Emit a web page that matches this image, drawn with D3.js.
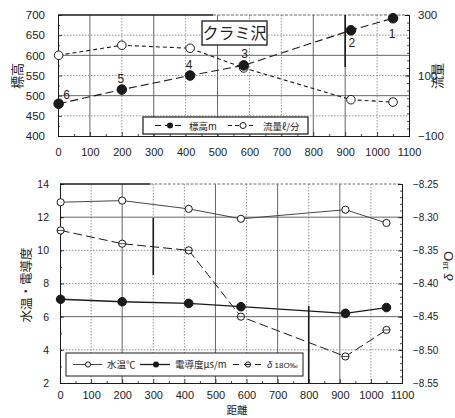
<!DOCTYPE html>
<html>
<head>
<meta charset="utf-8">
<script src="https://cdn.jsdelivr.net/npm/d3@7"></script>
<style>
  body { margin: 0; background: #fff; }
  svg { display: block; }
  text { font-family: "Liberation Sans", Arial, sans-serif; fill: #222; }
  .jp { font-family: "Noto Sans CJK JP", "Noto Sans", sans-serif; }
</style>
</head>
<body>
<svg id="chart" width="455" height="418"></svg>
<script>
// Survey stations along the stream (distance in m)
const distances = [2, 200, 414, 582, 918, 1050];
const stations = ["6", "5", "4", "3", "2", "1"];

// Upper panel: elevation (m) and discharge (l/min)
const elevation = [480, 515, 550, 575, 662, 692];
const discharge = [167, 200, 190, 125, 20, 12];

// Lower panel: water temperature, conductivity and delta 18O
const waterTemp = [12.9, 13.0, 12.5, 11.9, 12.45, 11.65];
const conductivity = [7.05, 6.9, 6.8, 6.6, 6.2, 6.55];
const delta18O = [-8.32, -8.34, -8.35, -8.45, -8.51, -8.47];

// Tick values
const distTicks = [0, 100, 200, 300, 400, 500, 600, 700, 800, 900, 1000, 1100];
const elevTicks = [400, 450, 500, 550, 600, 650, 700];
const dischargeTicks = [-100, 100, 300];
const tempTicks = [2, 4, 6, 8, 10, 12, 14];
const deltaTicks = [-8.55, -8.50, -8.45, -8.40, -8.35, -8.30, -8.25];

const svg = d3.select("#chart");
svg.append("rect").attr("width", 455).attr("height", 418).attr("fill", "#fff");

const ink = "#1a1a1a";
const gridCol = "#8a8a8a";

function drawGrid(g, x, y, xs, ys, x0, x1, y0, y1, solidX, solidY) {
  g.selectAll(null).data(xs).join("line")
    .attr("x1", d => x(d)).attr("x2", d => x(d))
    .attr("y1", y0).attr("y2", y1)
    .attr("stroke", d => solidX.includes(d) ? "#555" : gridCol)
    .attr("stroke-width", 0.9)
    .attr("stroke-dasharray", d => solidX.includes(d) ? null : "1.5,1.5");
  g.selectAll(null).data(ys).join("line")
    .attr("x1", x0).attr("x2", x1)
    .attr("y1", d => y(d)).attr("y2", d => y(d))
    .attr("stroke", d => solidY.includes(d) ? "#555" : gridCol)
    .attr("stroke-width", 0.9)
    .attr("stroke-dasharray", d => solidY.includes(d) ? null : "1.5,1.5");
}

function styleAxis(g, size) {
  g.select(".domain").attr("stroke", ink).attr("stroke-width", 1);
  g.selectAll(".tick line").attr("stroke", ink).attr("stroke-width", 0.8);
  g.selectAll(".tick text").attr("font-size", size).attr("fill", "#222")
    .attr("font-family", "Liberation Sans, Arial, sans-serif");
}

function marker(g, data, x, y, r, filled, bar) {
  const m = g.selectAll(null).data(data).join("g")
    .attr("transform", d => `translate(${x(d[0])},${y(d[1])})`);
  m.append("circle").attr("r", r)
    .attr("fill", filled ? ink : "#fff")
    .attr("stroke", ink).attr("stroke-width", 1);
  if (bar) m.append("line").attr("x1", -r).attr("x2", r)
    .attr("stroke", ink).attr("stroke-width", 0.8);
}

/* ---------------- Upper panel ---------------- */
{
  const x = d3.scaleLinear().domain([0, 1100]).range([58, 409]);
  const yL = d3.scaleLinear().domain([400, 700]).range([136, 15]);
  const yR = d3.scaleLinear().domain([-100, 300]).range([136, 15]);
  const g = svg.append("g");

  drawGrid(g, x, yL, distTicks.slice(1, -1), elevTicks.slice(1, -1),
    58, 409, 15, 136, [100, 300, 500, 800, 900], [500, 600]);

  // frame top and right
  g.append("line").attr("x1", 58).attr("x2", 213).attr("y1", 15).attr("y2", 15)
    .attr("stroke", ink).attr("stroke-width", 1.5);
  g.append("line").attr("x1", 213).attr("x2", 409).attr("y1", 15).attr("y2", 15)
    .attr("stroke", "#666").attr("stroke-width", 1).attr("stroke-dasharray", "3,1.5");
  g.append("line").attr("x1", x(900)).attr("x2", x(900)).attr("y1", 15).attr("y2", 67)
    .attr("stroke", ink).attr("stroke-width", 1.6);

  const ax = g.append("g").attr("transform", "translate(0,136)")
    .call(d3.axisBottom(x).tickValues(distTicks).tickSize(-4).tickPadding(12).tickFormat(d3.format("d")));
  styleAxis(ax, 11);
  const minorX = g.append("g").attr("transform", "translate(0,136)")
    .call(d3.axisBottom(x).tickValues(d3.range(50, 1100, 100)).tickSize(-2).tickFormat(""));
  styleAxis(minorX, 0);

  const ayl = g.append("g").attr("transform", "translate(58,0)")
    .call(d3.axisLeft(yL).tickValues(elevTicks).tickSize(-4).tickPadding(13));
  styleAxis(ayl, 11.5);
  const minorL = g.append("g").attr("transform", "translate(58,0)")
    .call(d3.axisLeft(yL).tickValues(d3.range(425, 700, 50)).tickSize(-2).tickFormat(""));
  styleAxis(minorL, 0);

  const ayr = g.append("g").attr("transform", "translate(409,0)")
    .call(d3.axisRight(yR).tickValues(dischargeTicks).tickSize(-4).tickPadding(9));
  styleAxis(ayr, 11.5);
  const minorR = g.append("g").attr("transform", "translate(409,0)")
    .call(d3.axisRight(yR).tickValues(d3.range(-75, 300, 25)).tickSize(-2).tickFormat(""));
  styleAxis(minorR, 0);

  // lines
  const elevPts = distances.map((d, i) => [d, elevation[i]]);
  const disPts = distances.map((d, i) => [d, discharge[i]]);
  g.append("path").datum(elevPts)
    .attr("d", d3.line().x(d => x(d[0])).y(d => yL(d[1])))
    .attr("fill", "none").attr("stroke", ink).attr("stroke-width", 1.1)
    .attr("stroke-dasharray", "8,4");
  g.append("path").datum(disPts)
    .attr("d", d3.line().x(d => x(d[0])).y(d => yR(d[1])))
    .attr("fill", "none").attr("stroke", ink).attr("stroke-width", 1.1)
    .attr("stroke-dasharray", "4,3");
  marker(g, disPts, x, yR, 4.3, false, false);
  marker(g, elevPts, x, yL, 4.8, true, false);

  // station numbers
  const numOffset = [[8, -9], [-1, -11], [-1, -11], [1, -11], [1, 13], [-1, 16]];
  g.selectAll(null).data(elevPts).join("text")
    .attr("x", (d, i) => x(d[0]) + numOffset[i][0])
    .attr("y", (d, i) => yL(d[1]) + numOffset[i][1] + 4)
    .attr("text-anchor", "middle").attr("font-size", 12)
    .attr("fill", ink).attr("font-family", "Liberation Sans, Arial, sans-serif")
    .text((d, i) => stations[i]);

  // title box
  g.append("rect").attr("x", 202).attr("y", 21).attr("width", 65).attr("height", 24)
    .attr("fill", "#fff").attr("stroke", ink).attr("stroke-width", 1.3);
  g.append("text").attr("class", "jp").attr("x", 234.5).attr("y", 39)
    .attr("text-anchor", "middle").attr("font-size", 16).text("クラミ沢");

  // legend
  const lg = g.append("g");
  lg.append("rect").attr("x", 143).attr("y", 117).attr("width", 165).attr("height", 17)
    .attr("fill", "#fff").attr("stroke", ink).attr("stroke-width", 1.2);
  lg.append("line").attr("x1", 155).attr("x2", 185).attr("y1", 125.5).attr("y2", 125.5)
    .attr("stroke", ink).attr("stroke-dasharray", "6,4");
  lg.append("circle").attr("cx", 170).attr("cy", 125.5).attr("r", 3).attr("fill", ink);
  lg.append("text").attr("class", "jp").attr("x", 189).attr("y", 129.5)
    .attr("font-size", 9.5).text("標高m");
  lg.append("line").attr("x1", 228).attr("x2", 256).attr("y1", 125.5).attr("y2", 125.5)
    .attr("stroke", ink).attr("stroke-dasharray", "4,3");
  lg.append("circle").attr("cx", 243).attr("cy", 125.5).attr("r", 3).attr("fill", "#fff").attr("stroke", ink);
  lg.append("text").attr("class", "jp").attr("x", 263).attr("y", 129.5)
    .attr("font-size", 9.5).text("流量ℓ/分");

  // axis titles
  g.append("text").attr("class", "jp").attr("transform", "translate(22,76) rotate(-90)")
    .attr("text-anchor", "middle").attr("font-size", 13).text("標高");
  g.append("text").attr("class", "jp").attr("transform", "translate(442,76) rotate(-90)")
    .attr("text-anchor", "middle").attr("font-size", 13).text("流量");
}

/* ---------------- Lower panel ---------------- */
{
  const x = d3.scaleLinear().domain([0, 1100]).range([60, 402]);
  const yL = d3.scaleLinear().domain([2, 14]).range([383, 184]);
  const yR = d3.scaleLinear().domain([-8.55, -8.25]).range([383, 184]);
  const g = svg.append("g");

  drawGrid(g, x, yL, distTicks.slice(1, -1), tempTicks.slice(1, -1),
    60, 402, 184, 383, [200, 500, 700, 900], [6, 12]);

  g.append("line").attr("x1", 60).attr("x2", 150).attr("y1", 184).attr("y2", 184)
    .attr("stroke", ink).attr("stroke-width", 1.5);
  g.append("line").attr("x1", 150).attr("x2", 402).attr("y1", 184).attr("y2", 184)
    .attr("stroke", "#777").attr("stroke-width", 1).attr("stroke-dasharray", "3,1.5");
  g.append("line").attr("x1", x(300)).attr("x2", x(300)).attr("y1", 218).attr("y2", 275)
    .attr("stroke", ink).attr("stroke-width", 1.6);
  g.append("line").attr("x1", x(800)).attr("x2", x(800)).attr("y1", 306).attr("y2", 383)
    .attr("stroke", ink).attr("stroke-width", 1.6);

  const ax = g.append("g").attr("transform", "translate(0,383)")
    .call(d3.axisBottom(x).tickValues(distTicks).tickSize(-4).tickPadding(8).tickFormat(d3.format("d")));
  styleAxis(ax, 11);
  const minorX = g.append("g").attr("transform", "translate(0,383)")
    .call(d3.axisBottom(x).tickValues(d3.range(50, 1100, 100)).tickSize(-2).tickFormat(""));
  styleAxis(minorX, 0);

  const ayl = g.append("g").attr("transform", "translate(60,0)")
    .call(d3.axisLeft(yL).tickValues(tempTicks).tickSize(-4).tickPadding(11));
  styleAxis(ayl, 10.5);
  const minorL = g.append("g").attr("transform", "translate(60,0)")
    .call(d3.axisLeft(yL).tickValues(d3.range(3, 14, 1)).tickSize(-2).tickFormat(""));
  styleAxis(minorL, 0);

  const ayr = g.append("g").attr("transform", "translate(402,0)")
    .call(d3.axisRight(yR).tickValues(deltaTicks).tickSize(-4).tickPadding(11).tickFormat(d3.format(".2f")));
  styleAxis(ayr, 10);
  const minorR = g.append("g").attr("transform", "translate(402,0)")
    .call(d3.axisRight(yR).tickValues(d3.range(-8.54, -8.25, 0.01)).tickSize(-2).tickFormat(""));
  styleAxis(minorR, 0);

  const tPts = distances.map((d, i) => [d, waterTemp[i]]);
  const cPts = distances.map((d, i) => [d, conductivity[i]]);
  const oPts = distances.map((d, i) => [d, delta18O[i]]);

  g.append("path").datum(tPts)
    .attr("d", d3.line().x(d => x(d[0])).y(d => yL(d[1])))
    .attr("fill", "none").attr("stroke", "#333").attr("stroke-width", 0.9);
  g.append("path").datum(cPts)
    .attr("d", d3.line().x(d => x(d[0])).y(d => yL(d[1])))
    .attr("fill", "none").attr("stroke", ink).attr("stroke-width", 1.3);
  g.append("path").datum(oPts)
    .attr("d", d3.line().x(d => x(d[0])).y(d => yR(d[1])))
    .attr("fill", "none").attr("stroke", ink).attr("stroke-width", 1)
    .attr("stroke-dasharray", "9,4");
  marker(g, tPts, x, yL, 3.6, false, false);
  marker(g, cPts, x, yL, 4.3, true, false);
  marker(g, oPts, x, yR, 3.6, false, true);

  // legend
  const lg = g.append("g");
  lg.append("rect").attr("x", 66).attr("y", 353).attr("width", 237).attr("height", 23)
    .attr("fill", "#fff").attr("stroke", ink).attr("stroke-width", 1);
  const cy = 364.5;
  lg.append("line").attr("x1", 73).attr("x2", 102).attr("y1", cy).attr("y2", cy)
    .attr("stroke", "#333").attr("stroke-width", 0.9);
  lg.append("circle").attr("cx", 88).attr("cy", cy).attr("r", 2.6).attr("fill", "#fff").attr("stroke", ink);
  lg.append("text").attr("class", "jp").attr("x", 107).attr("y", cy + 3.5)
    .attr("font-size", 9.5).text("水温℃");
  lg.append("line").attr("x1", 140).attr("x2", 170).attr("y1", cy).attr("y2", cy)
    .attr("stroke", ink).attr("stroke-width", 1.3);
  lg.append("circle").attr("cx", 156).attr("cy", cy).attr("r", 3).attr("fill", ink);
  lg.append("text").attr("class", "jp").attr("x", 175).attr("y", cy + 3.5)
    .attr("font-size", 9.5).text("電導度μs/m");
  lg.append("line").attr("x1", 233).attr("x2", 263).attr("y1", cy).attr("y2", cy)
    .attr("stroke", ink).attr("stroke-dasharray", "6,5");
  lg.append("circle").attr("cx", 248).attr("cy", cy).attr("r", 2.6).attr("fill", "#fff").attr("stroke", ink);
  lg.append("line").attr("x1", 245.4).attr("x2", 250.6).attr("y1", cy).attr("y2", cy).attr("stroke", ink);
  const dl = lg.append("text").attr("x", 267).attr("y", cy + 3.5).attr("font-size", 9.5);
  dl.append("tspan").attr("font-style", "italic").text("δ");
  dl.append("tspan").attr("font-size", 8).text(" 18O‰");

  // axis titles
  g.append("text").attr("class", "jp").attr("transform", "translate(31,285) rotate(-90)")
    .attr("text-anchor", "middle").attr("font-size", 12.5).text("水温・電導度");
  const dt = g.append("text").attr("transform", "translate(453,266) rotate(-90)")
    .attr("text-anchor", "middle").attr("font-size", 13);
  dt.append("tspan").attr("font-style", "italic").text("δ ");
  dt.append("tspan").attr("font-size", 8).attr("dy", -5).text("18");
  dt.append("tspan").attr("dy", 5).text("O");

  svg.append("text").attr("class", "jp").attr("x", 237).attr("y", 414)
    .attr("text-anchor", "middle").attr("font-size", 10.5).text("距離");
}
</script>
</body>
</html>
